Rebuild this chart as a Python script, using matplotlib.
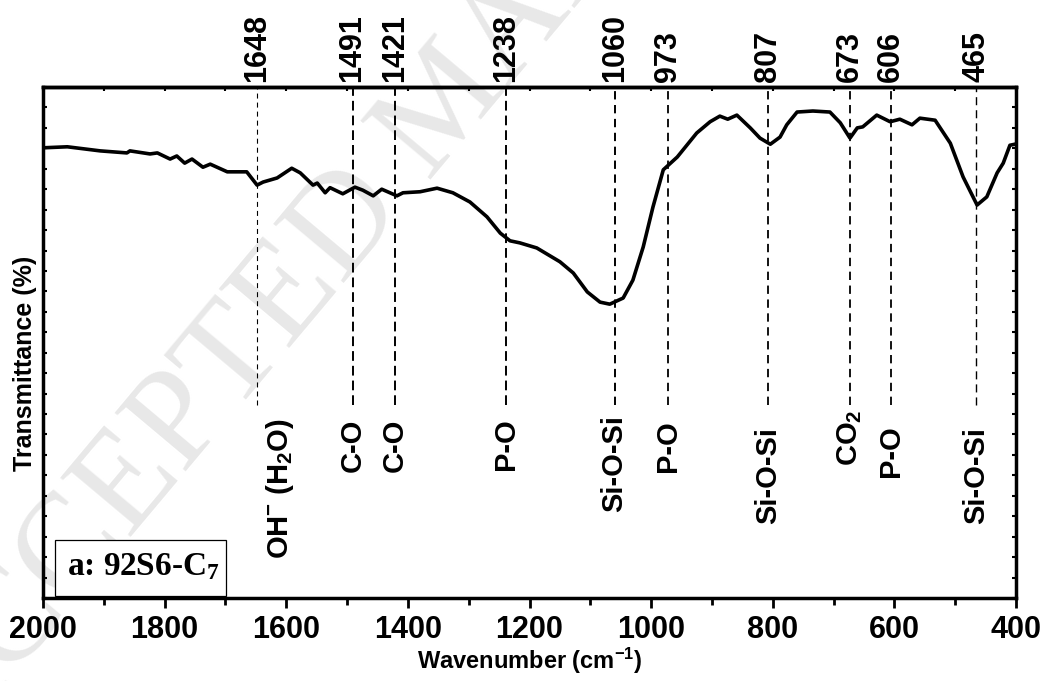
import numpy as np
import matplotlib
matplotlib.use('agg')
import matplotlib.pyplot as plt
import matplotlib.ticker as tkr
from matplotlib.patches import Rectangle

plt.rcParams['font.family'] = ['Liberation Sans', 'DejaVu Sans']
plt.rcParams['font.weight'] = 'bold'
plt.rcParams['axes.labelweight'] = 'bold'
plt.rcParams['mathtext.default'] = 'regular'
plt.rcParams['lines.scale_dashes'] = False

# spectrum (wavenumber cm-1, transmittance a.u.)
wavenumber = [2000, 1960, 1906, 1862, 1857, 1824, 1812, 1791, 1780, 1767, 1755, 1737, 1725,
              1697, 1665, 1648, 1638, 1615, 1591, 1577, 1556, 1549, 1536, 1528, 1507, 1487,
              1474, 1457, 1443, 1418, 1408, 1380, 1352, 1326, 1298, 1270, 1248, 1232, 1216,
              1188, 1150, 1128, 1105, 1084, 1068, 1046, 1030, 1013, 997, 980, 957, 925, 903,
              887, 874, 859, 837, 821, 804, 788, 777, 760, 734, 706, 689, 673, 661, 652, 629,
              607, 591, 571, 558, 533, 508, 487, 464, 448, 431, 421, 410, 402]
transmittance = [88.1, 88.3, 87.5, 87.1, 87.5, 86.9, 87.1, 85.9, 86.5, 85.1, 85.9, 84.3, 84.9,
                 83.4, 83.4, 80.8, 81.4, 82.2, 84.1, 83.2, 80.8, 81.2, 79.3, 80.3, 79.1, 80.4,
                 79.8, 78.7, 80.0, 78.7, 79.3, 79.5, 80.2, 79.3, 77.5, 74.6, 71.4, 69.9, 69.5,
                 68.5, 65.8, 63.6, 59.9, 57.9, 57.5, 58.7, 62.2, 68.7, 76.5, 83.8, 86.3, 91.0, 93.2,
                 94.3, 93.7, 94.5, 92.0, 90.0, 88.8, 90.2, 92.6, 95.1, 95.3, 95.1, 93.0, 90.0, 92.0, 92.2, 94.5,
                 93.2, 93.7, 92.6, 93.9, 93.5, 89.0, 82.4, 76.9, 78.5, 83.2, 85.1, 88.6, 88.8]

# band positions and assignments
peaks = [1648, 1491, 1421, 1238, 1060, 973, 807, 673, 606, 465]
bands = ['OH$^{-}$ (H$_2$O)', 'C-O', 'C-O', 'P-O', 'Si-O-Si', 'P-O', 'Si-O-Si',
         'CO$_2$', 'P-O', 'Si-O-Si']
sample = 'a: 92S6-C$_7$'

# layout bits
band_x = [1610, 1491, 1421, 1238, 1060, 973, 807, 673, 606, 465]
band_top = [0.352, 0.352, 0.352, 0.352, 0.358, 0.348, 0.335, 0.368, 0.339, 0.335]
line_lw = [0.8, 1.4, 1.4, 1.4, 1.4, 1.3, 1.3, 1.3, 1.3, 1.0]
line_dash = [(3.6, 2.9), (7, 3.6), (7, 3.6), (7, 3.6), (6, 4), (6, 4), (6, 4), (6, 4), (6, 4), (5.8, 3.6)]

fig = plt.figure(figsize=(10.45, 6.81), dpi=100)
ax = fig.add_axes([43 / 1045, 1 - 598 / 681, 973 / 1045, 511 / 681])
ax.set_facecolor('none')

# watermark
fig.text(-55 / 1045, -77 / 681, 'ACCEPTED MANUSCRIPT', rotation=50, rotation_mode='anchor',
         ha='left', va='baseline', fontsize=100, family='Liberation Serif', weight='normal',
         color='#e8e8e8', zorder=-10)

ax.plot(wavenumber, transmittance, color='black', lw=2.6, solid_joinstyle='round', zorder=3)

for i, p in enumerate(peaks):
    ax.axvline(p, ymin=0.378, ymax=1, color='black', lw=line_lw[i], linestyle='--',
               dashes=line_dash[i], zorder=2)
    ax.text(p, 1.01, str(p), transform=ax.get_xaxis_transform(), rotation=90,
            ha='center', va='bottom', fontsize=22)
    ax.text(band_x[i], band_top[i], bands[i], transform=ax.get_xaxis_transform(), rotation=90,
            ha='center', va='top', fontsize=21)

# sample box
ax.add_patch(Rectangle((0.0123, 0.0039), 0.1757, 0.1096, transform=ax.transAxes,
                       fc='white', ec='black', lw=0.9, zorder=4))
ax.text(0.0247, 0.045, sample, transform=ax.transAxes, ha='left', va='baseline',
        fontsize=24, family='Liberation Serif', weight='bold', zorder=5)

ax.set_xlim(2000, 400)
ax.set_ylim(0, 100)
ax.xaxis.set_major_locator(tkr.MultipleLocator(200))
ax.xaxis.set_minor_locator(tkr.MultipleLocator(100))
ax.yaxis.set_major_locator(tkr.MultipleLocator(4))
ax.tick_params(axis='x', which='major', direction='out', length=7, width=2, labelsize=22, pad=5)
ax.tick_params(axis='x', which='minor', direction='out', length=5, width=2)
ax.tick_params(axis='y', which='both', direction='in', length=3, width=1.5,
               left=True, right=True, labelleft=False)

top = ax.secondary_xaxis('top')
top.xaxis.set_major_locator(tkr.MultipleLocator(100))
top.tick_params(direction='in', length=3, width=1.5, labeltop=False)
for s in top.spines.values():
    s.set_linewidth(2.5)
for s in ax.spines.values():
    s.set_linewidth(2.5)

ax.set_xlabel('Wavenumber (cm$^{-1}$)', fontsize=17, labelpad=1)
ax.set_ylabel('Transmittance (%)', fontsize=18)
ax.yaxis.set_label_coords(-0.006, 0.46)

plt.savefig('out.png', dpi=100)
